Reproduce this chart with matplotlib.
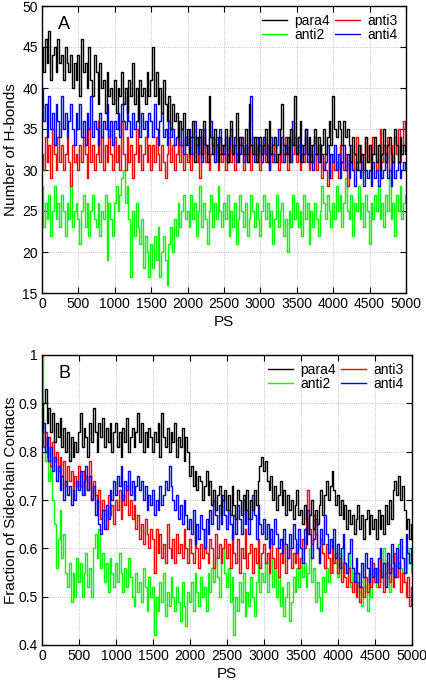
import numpy as np
import matplotlib
matplotlib.use("Agg")
import matplotlib.pyplot as plt
from matplotlib.ticker import FuncFormatter, MultipleLocator

plt.rcParams['font.family'] = ['Liberation Sans', 'DejaVu Sans']

# time axis (PS), one sample every 25 PS
ps = np.arange(0, 5001, 25)

# ---------------- Panel A: number of H-bonds ----------------
hb_para4 = [
    45,42,46,43,47,41,44,45,42,46,43,44,41,45,43,42,44,40,43,41,
    44,39,46,42,43,40,45,41,39,44,42,38,43,40,41,37,42,39,40,38,
    41,37,40,39,42,38,40,37,41,39,43,38,40,36,41,39,40,38,42,39,
    41,45,39,42,38,40,37,41,38,36,39,35,38,36,37,34,36,35,37,33,
    35,32,34,36,31,34,33,35,32,36,33,31,39,34,32,35,33,31,34,32,
    33,35,31,34,36,32,33,37,31,34,33,32,35,31,38,33,32,34,31,33,
    34,32,33,35,31,36,32,33,34,31,32,35,38,33,32,34,31,35,33,39,
    32,34,36,31,33,35,32,34,31,33,35,32,34,31,33,35,32,34,36,33,
    39,35,34,36,35,33,36,34,35,33,31,34,32,30,33,31,32,30,34,31,
    33,30,32,34,31,33,30,32,35,31,33,34,32,31,35,33,31,34,32,33,
    32]
hb_anti2 = [
    28,23,26,24,27,22,25,28,24,26,23,27,25,22,26,24,28,23,25,26,
    24,21,25,27,23,26,22,25,27,24,23,26,22,25,24,27,19,26,24,22,
    26,28,25,27,29,30,26,28,24,17,25,22,26,23,21,24,18,22,20,17,
    21,18,22,19,23,17,20,22,19,16,21,23,20,24,22,26,23,25,27,24,
    25,23,27,24,26,22,25,28,23,26,24,21,25,27,23,26,24,28,25,23,
    26,24,27,22,25,23,26,21,24,27,25,23,26,22,24,27,25,23,26,24,
    22,25,27,24,26,23,25,21,24,27,23,25,26,22,24,20,25,23,27,24,
    26,23,25,22,27,24,26,21,25,23,26,24,22,25,28,26,24,27,25,23,
    26,24,28,25,27,23,26,29,25,24,27,22,26,25,28,24,26,23,27,25,
    21,26,24,27,25,28,24,26,23,27,25,29,24,26,22,27,25,28,24,26,
    27]
hb_anti3 = [
    32,30,34,31,33,29,35,32,30,34,31,33,30,32,34,31,28,33,31,32,
    30,33,31,34,32,29,35,31,33,30,32,36,31,34,30,33,31,35,32,30,
    34,31,33,30,36,32,30,34,31,33,29,32,35,31,33,30,32,34,31,33,
    30,33,31,34,32,30,33,31,29,32,34,31,33,30,32,34,31,33,30,32,
    31,33,30,32,34,31,33,29,32,34,31,33,30,32,34,31,33,30,32,31,
    33,30,32,34,31,33,30,32,31,33,34,30,32,31,33,30,34,32,31,33,
    30,32,34,31,33,30,32,31,34,32,30,33,31,32,34,30,33,31,32,34,
    31,33,30,32,31,34,32,30,33,31,32,30,33,31,29,32,30,28,31,29,
    32,30,31,29,33,31,30,32,28,31,33,30,32,34,31,33,30,32,34,31,
    33,31,34,32,30,33,35,31,33,32,34,30,33,31,34,32,35,31,33,36,
    33]
hb_anti4 = [
    40,36,38,34,39,35,37,33,38,36,34,39,35,37,34,36,38,35,33,37,
    35,38,34,36,33,37,35,39,34,36,35,33,37,34,36,35,38,34,36,33,
    36,35,37,34,38,36,35,39,36,34,37,35,36,38,34,37,35,36,34,37,
    36,34,38,35,33,36,37,34,35,33,36,34,35,33,34,36,33,35,32,34,
    33,35,32,34,36,33,32,34,31,35,33,32,34,36,33,31,34,32,35,33,
    32,34,31,33,35,32,34,31,33,32,34,31,33,32,36,39,33,31,34,32,
    33,31,34,32,33,30,34,32,31,33,35,32,34,31,33,32,34,31,36,33,
    32,34,31,33,32,35,31,33,32,30,34,32,31,33,32,30,31,33,29,32,
    31,33,30,32,29,31,33,30,32,29,31,30,28,31,30,29,31,28,30,29,
    30,28,31,29,30,28,31,29,30,32,29,30,28,31,29,30,31,29,30,31,
    30]

# ---------------- Panel B: fraction of sidechain contacts (in %) ----------------
sc_para4_pct = [
    85,90,93,86,89,84,88,82,86,83,87,81,85,80,84,78,83,79,82,80,
    84,88,81,85,83,79,86,82,89,84,80,86,83,87,81,85,82,86,80,84,
    86,81,84,79,85,82,87,80,83,85,81,84,88,82,86,80,84,81,85,83,
    80,84,82,86,79,88,83,81,85,80,84,82,86,79,83,81,85,78,83,80,
    75,77,73,76,72,75,74,70,73,76,71,74,69,72,68,71,73,67,70,72,
    68,71,67,73,69,66,72,70,67,71,68,72,66,70,68,72,69,74,77,79,
    76,78,74,72,75,70,73,68,71,74,69,72,67,71,68,70,66,69,72,67,
    68,65,69,66,63,67,70,64,68,65,69,72,67,71,74,70,73,76,72,69,
    71,67,70,66,69,64,68,65,67,63,66,69,64,67,62,66,68,63,67,64,
    66,62,68,64,67,63,69,65,70,66,72,74,71,75,70,73,68,64,66,62,
    65]
sc_anti2_pct = [
    100,84,78,80,74,77,70,65,56,62,68,58,63,55,52,57,49,55,50,58,
    53,57,50,55,59,52,56,50,60,63,58,64,56,59,53,57,51,58,55,52,
    57,53,59,55,51,56,52,58,54,50,48,55,51,53,49,56,52,47,54,50,
    52,42,50,47,53,49,55,46,51,48,54,50,47,52,49,45,53,48,44,51,
    49,53,47,55,51,48,54,50,52,47,55,51,56,53,58,54,50,57,60,55,
    52,56,49,54,42,50,47,53,49,55,46,51,48,54,50,46,53,57,51,55,
    53,57,51,55,58,52,56,50,54,48,52,46,50,53,45,49,54,51,56,52,
    58,54,57,52,55,60,53,56,49,53,50,47,54,51,56,53,58,55,60,57,
    54,59,56,61,57,55,59,52,56,53,50,55,51,48,54,52,47,55,50,53,
    56,52,58,53,55,60,57,54,51,56,59,54,58,61,56,53,58,55,60,57,
    55]
sc_anti3_pct = [
    85,81,84,79,83,77,82,78,80,76,79,75,78,73,77,74,76,72,75,73,
    77,73,76,71,75,72,78,70,74,71,69,72,66,70,68,64,71,67,69,65,
    70,68,72,66,71,69,73,67,70,66,69,64,67,62,65,61,66,63,60,64,
    62,55,64,59,63,58,61,57,65,60,58,62,57,63,59,61,58,64,60,57,
    62,59,57,63,60,56,61,58,64,59,57,62,60,56,63,58,61,57,60,62,
    58,61,56,63,59,57,62,55,60,58,64,56,59,61,55,60,57,62,56,59,
    61,57,59,55,62,58,56,60,54,59,57,61,55,58,60,56,59,57,61,56,
    58,62,60,66,72,64,61,67,63,60,57,62,59,56,61,58,55,60,57,59,
    55,58,53,57,54,52,56,53,51,55,50,53,49,52,50,54,51,55,52,57,
    53,56,52,58,54,51,55,57,53,56,52,59,54,57,51,55,53,50,54,48,
    52]
sc_anti4_pct = [
    84,86,80,83,78,81,76,79,74,77,72,75,70,74,71,73,69,72,70,74,
    72,76,71,74,77,72,75,70,73,67,70,65,63,68,64,69,66,72,70,74,
    71,75,73,77,70,74,72,76,71,74,70,73,75,72,74,70,73,68,71,69,
    72,67,70,68,73,69,71,74,72,77,73,70,68,71,66,69,65,70,67,64,
    66,63,68,61,65,62,67,64,60,66,63,68,65,70,67,64,69,65,71,67,
    64,68,65,62,67,63,69,66,63,70,65,68,63,66,71,67,62,69,65,63,
    66,62,65,60,64,61,66,63,60,62,59,64,61,58,63,60,65,62,59,64,
    60,57,64,61,68,63,58,62,66,60,57,64,61,67,63,59,62,60,64,58,
    61,56,60,63,57,55,59,62,56,53,58,55,52,57,54,59,56,53,58,54,
    56,53,58,60,54,57,52,59,55,61,57,54,60,56,62,58,55,63,59,57,
    60]

series_names = ['para4', 'anti2', 'anti3', 'anti4']
series_colors = {'para4': '#000000', 'anti2': '#00ff00', 'anti3': '#ff0000', 'anti4': '#0000ff'}
draw_order = ['anti2', 'anti3', 'anti4', 'para4']

hb = {'para4': hb_para4, 'anti2': hb_anti2, 'anti3': hb_anti3, 'anti4': hb_anti4}
sc = {'para4': sc_para4_pct, 'anti2': sc_anti2_pct, 'anti3': sc_anti3_pct, 'anti4': sc_anti4_pct}
sc = {k: np.array(v) / 100.0 for k, v in sc.items()}

fig = plt.figure(figsize=(4.26, 6.82), dpi=100)
axA = fig.add_axes([42/426, 1-293/682, 364/426, 287/682])
axB = fig.add_axes([42/426, 1-645/682, 370/426, 290/682])

def style(ax):
    ax.grid(True, color='#b0b0b0', linestyle=':', linewidth=0.6)
    ax.set_axisbelow(True)
    ax.tick_params(direction='in', top=True, right=True, length=4, width=0.8,
                   labelsize=10, pad=3)
    for s in ax.spines.values():
        s.set_linewidth(1.0)
    ax.set_xlim(0, 5000)
    ax.xaxis.set_major_locator(MultipleLocator(500))

def draw(ax, data):
    handles = {}
    for name in draw_order:
        ln, = ax.plot(ps, data[name], color=series_colors[name], lw=1.0,
                      drawstyle='steps-mid', label=name)
        handles[name] = ln
    hs = [handles[n] for n in series_names]
    ax.legend(hs, series_names, ncol=2, loc='upper right', frameon=False,
              fontsize=10, handlelength=1.8, handletextpad=0.5, columnspacing=0.4,
              labelspacing=0.0, borderpad=0.3, borderaxespad=0.3)

style(axA)
draw(axA, hb)
axA.set_ylim(15, 50)
axA.yaxis.set_major_locator(MultipleLocator(5))
axA.set_ylabel('Number of H-bonds', fontsize=11)
axA.yaxis.set_label_coords(-24/364, 0.5)
axA.set_xlabel('PS', fontsize=11, labelpad=3)
axA.text(0.045, 0.965, 'A', transform=axA.transAxes, fontsize=13, va='top', ha='left')

style(axB)
draw(axB, sc)
axB.set_ylim(0.4, 1.0)
axB.yaxis.set_major_locator(MultipleLocator(0.1))
axB.yaxis.set_major_formatter(FuncFormatter(lambda v, p: '1' if abs(v-1) < 1e-9 else '%.1f' % v))
axB.set_ylabel('Fraction of Sidechain Contacts', fontsize=11)
axB.yaxis.set_label_coords(-24/370, 0.5)
axB.set_xlabel('PS', fontsize=11, labelpad=3)
axB.text(0.045, 0.965, 'B', transform=axB.transAxes, fontsize=13, va='top', ha='left')

fig.savefig('out.png', dpi=100)
